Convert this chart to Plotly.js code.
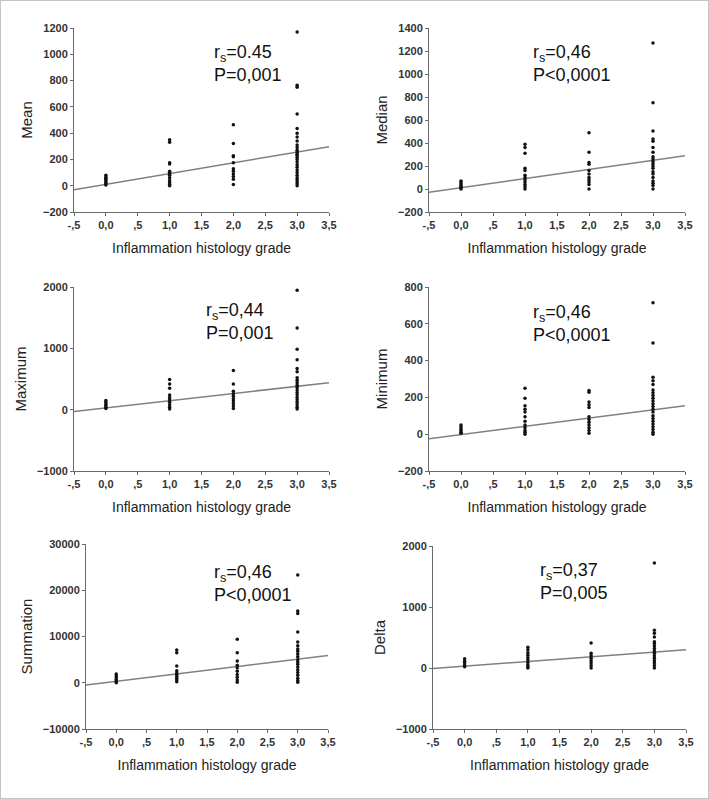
<!DOCTYPE html>
<html>
<head>
<meta charset="utf-8">
<script src="https://cdn.plot.ly/plotly-3.0.1.min.js"></script>
<style>html,body{margin:0;padding:0;background:#fff;}#chart{width:709px;height:799px;}</style>
</head>
<body>
<div id="chart"></div>
<script>
// ---------- DATA ----------
const grades = [0, 1, 2, 3];
const xTickVals = [-0.5, 0, 0.5, 1, 1.5, 2, 2.5, 3, 3.5];
const xTickText = ["-,5", "0,0", ",5", "1,0", "1,5", "2,0", "2,5", "3,0", "3,5"];
const xTitle = "Inflammation histology grade";

const panelNames = ["Mean", "Median", "Maximum", "Minimum", "Summation", "Delta"];
const rsText = ["0.45", "0,46", "0,44", "0,46", "0,46", "0,37"];
const pText = ["P=0,001", "P<0,0001", "P=0,001", "P<0,0001", "P<0,0001", "P=0,005"];

const meanByGrade = [
  [5, 15, 25, 35, 45, 55, 65, 80],
  [350, 330, 175, 165, 110, 100, 90, 80, 60, 40, 25, 10, 0],
  [463, 322, 228, 220, 175, 130, 110, 90, 70, 50, 10],
  [1170, 765, 750, 545, 435, 400, 370, 340, 310, 290, 270, 255, 240, 230, 215, 200, 180, 160, 140, 120, 100, 80, 60, 45, 30, 15, 0]
];
const medianByGrade = [
  [70, 60, 45, 30, 20, 10, 0],
  [390, 360, 310, 180, 160, 120, 100, 80, 60, 40, 20, 0],
  [490, 320, 230, 215, 160, 130, 100, 80, 60, 40, 0],
  [1270, 750, 505, 435, 415, 360, 320, 280, 260, 240, 220, 200, 180, 150, 130, 100, 70, 50, 30, 0]
];
const maximumByGrade = [
  [150, 120, 90, 60, 40, 20],
  [490, 420, 350, 240, 200, 160, 120, 80, 40, 10],
  [640, 420, 300, 260, 220, 180, 140, 100, 60, 20],
  [1945, 1330, 985, 815, 670, 620, 520, 480, 440, 400, 360, 320, 280, 240, 200, 160, 120, 80, 40, 10]
];
const minimumByGrade = [
  [50, 40, 30, 20, 10, 5],
  [250, 195, 155, 135, 120, 95, 70, 50, 35, 20, 10, 0],
  [237, 228, 175, 160, 145, 95, 80, 65, 50, 35, 20, 5],
  [715, 495, 310, 290, 270, 240, 225, 210, 195, 180, 165, 150, 135, 120, 100, 85, 70, 55, 40, 25, 10, 0]
];
const summationByGrade = [
  [1900, 1500, 1100, 700, 300, 0],
  [7100, 6500, 3600, 2600, 2100, 1800, 1400, 1000, 600, 200],
  [9400, 6500, 4700, 3800, 3200, 2500, 1800, 1200, 600, 100],
  [23300, 15500, 15000, 11000, 8800, 8000, 7300, 6800, 6200, 5600, 5000, 4500, 4000, 3400, 2800, 2200, 1600, 1000, 500, 100]
];
const deltaByGrade = [
  [150, 110, 80, 50, 20],
  [340, 300, 250, 210, 170, 130, 90, 50, 20, 0],
  [410, 240, 200, 160, 120, 80, 40, 0],
  [1720, 620, 570, 510, 430, 400, 360, 320, 280, 240, 200, 160, 120, 80, 40, 0]
];
const fitX = [-0.5, 3.5];
const meanFit = [-30, 297];
const medianFit = [-28, 290];
const maximumFit = [-28, 440];
const minimumFit = [-25, 155];
const summationFit = [-500, 5900];
const deltaFit = [-10, 300];

const meanTicks = [-200, 0, 200, 400, 600, 800, 1000, 1200];
const medianTicks = [-200, 0, 200, 400, 600, 800, 1000, 1200, 1400];
const maximumTicks = [-1000, 0, 1000, 2000];
const minimumTicks = [-200, 0, 200, 400, 600, 800];
const summationTicks = [-10000, 0, 10000, 20000, 30000];
const deltaTicks = [-1000, 0, 1000, 2000];

// ---------- LAYOUT HELPERS ----------
const W = 709, H = 799;
const panelData = [meanByGrade, medianByGrade, maximumByGrade, minimumByGrade, summationByGrade, deltaByGrade];
const panelFit = [meanFit, medianFit, maximumFit, minimumFit, summationFit, deltaFit];
const panelTicks = [meanTicks, medianTicks, maximumTicks, minimumTicks, summationTicks, deltaTicks];
// pixel boxes: [left, right, top, bottom]
const boxes = [
  [74, 329, 28, 212],
  [429, 685, 28, 212],
  [74, 329, 287, 471],
  [429, 685, 287, 471],
  [86, 328, 544, 729],
  [433, 686, 546, 729]
];
const annPos = [[212, 40], [531, 40], [204, 298], [531, 300], [212, 560], [538, 558]];

const traces = [];
const layout = {
  width: W, height: H,
  margin: {l: 0, r: 0, t: 0, b: 0},
  paper_bgcolor: "#fff", plot_bgcolor: "#fff",
  showlegend: false,
  font: {family: "Arial, Liberation Sans, sans-serif", color: "#222"},
  annotations: [],
  shapes: [{type: "rect", xref: "paper", yref: "paper", x0: 0, x1: 1, y0: 0, y1: 1,
            line: {color: "#c4c4c4", width: 2}}]
};

panelData.forEach((byGrade, i) => {
  const n = i + 1;
  const xa = n === 1 ? "x" : "x" + n;
  const ya = n === 1 ? "y" : "y" + n;
  const xs = [], ys = [];
  byGrade.forEach((vals, g) => vals.forEach(v => { xs.push(grades[g]); ys.push(v); }));
  traces.push({type: "scatter", mode: "lines", x: fitX, y: panelFit[i], xaxis: xa, yaxis: ya,
               line: {color: "#808080", width: 1.5}, hoverinfo: "skip"});
  traces.push({type: "scatter", mode: "markers", x: xs, y: ys, xaxis: xa, yaxis: ya,
               marker: {color: "#111", size: 3.5, symbol: "circle"}});
  const b = boxes[i];
  const ticks = panelTicks[i];
  const axBase = {
    showline: true, linecolor: "#6a6a6a", linewidth: 1,
    ticks: "outside", ticklen: 3, tickcolor: "#6a6a6a",
    showgrid: false, zeroline: false, fixedrange: true,
    tickfont: {size: 11, color: "#333", family: "Arial, Liberation Sans, sans-serif", weight: "bold"}
  };
  layout["xaxis" + (n === 1 ? "" : n)] = Object.assign({}, axBase, {
    domain: [b[0] / W, b[1] / W], anchor: ya,
    range: [fitX[0], fitX[1]], tickmode: "array", tickvals: xTickVals, ticktext: xTickText,
    title: {text: xTitle, font: {size: 14, color: "#222"}, standoff: 12}
  });
  layout["yaxis" + (n === 1 ? "" : n)] = Object.assign({}, axBase, {
    domain: [1 - b[3] / H, 1 - b[2] / H], anchor: xa,
    range: [ticks[0], ticks[ticks.length - 1]], tickmode: "array", tickvals: ticks,
    tickformat: "d",
    title: {text: panelNames[i], font: {size: 15, color: "#222"}, standoff: 6}
  });
  const a = annPos[i];
  layout.annotations.push({
    xref: "paper", yref: "paper", x: a[0] / W, y: 1 - a[1] / H,
    xanchor: "left", yanchor: "top", align: "left", showarrow: false,
    text: "r<sub>s</sub>=" + rsText[i] + "<br>" + pText[i],
    font: {size: 18, color: "#111"}
  });
});

Plotly.newPlot("chart", traces, layout, {displayModeBar: false, staticPlot: true});
</script>
</body>
</html>
